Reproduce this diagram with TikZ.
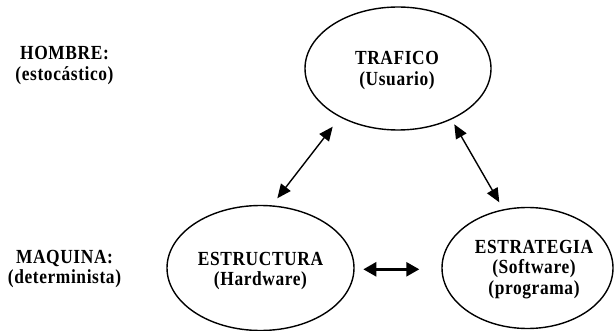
\documentclass[tikz,border=0pt]{standalone}
\usepackage{fontspec}
\setmainfont{Liberation Serif}
\newfontfamily\lblfont[FakeStretch=0.87,LetterSpace=3]{Liberation Serif}
\usetikzlibrary{shapes.geometric,arrows.meta}
\tikzset{
  oval/.style={draw, ellipse, line width=1.4pt, inner sep=0pt},
  lbl/.style={font=\lblfont\fontsize{20}{20.5}\selectfont\bfseries, align=center, inner sep=0pt},
  dbl/.style={line width=1.4pt, {Triangle[length=14pt,width=12pt]}-{Triangle[length=14pt,width=12pt]}},
  dblthick/.style={line width=2.6pt, {Triangle[length=13pt,width=14pt]}-{Triangle[length=13pt,width=14pt]}}
}
\begin{document}
\begin{tikzpicture}[x=1pt,y=-1pt]
\useasboundingbox (0,0) rectangle (615,331);
% ovals
\node[oval, minimum width=186pt, minimum height=123pt] (traf) at (398,68.5) {};
\node[oval, minimum width=187pt, minimum height=125pt] (estr) at (260.5,268) {};
\node[oval, minimum width=171pt, minimum height=121pt] (estg) at (527.5,268) {};
% texts
\node[lbl] (hombre) at (64.5,65.5) {HOMBRE:\\(estocástico)};
\node[lbl] (maquina) at (64.5,269) {MAQUINA:\\(determinista)};
\node[lbl] (ttraf) at (397,70.5) {TRAFICO\\(Usuario)};
\node[lbl] (testr) at (260.5,271) {ESTRUCTURA\\(Hardware)};
\node[lbl] (testg) at (534,269.5) {ESTRATEGIA\\(Software)\\(programa)};
% arrow ends
\coordinate (l1) at (332.7,126.7);
\coordinate (l2) at (277.3,198.3);
\coordinate (r1) at (454.3,124.3);
\coordinate (r2) at (499.3,202.3);
\coordinate (m1) at (363.3,269.3);
\coordinate (m2) at (419.3,269.3);
\draw[dbl] (l2) -- (l1);
\draw[dbl] (r1) -- (r2);
\draw[dblthick] (m1) -- (m2);
\end{tikzpicture}
\end{document}
